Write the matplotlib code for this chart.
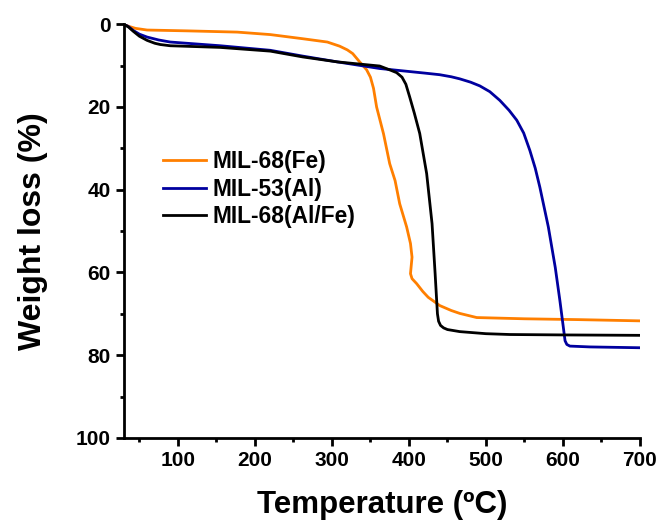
import matplotlib
matplotlib.use("Agg")
import matplotlib.pyplot as plt
from matplotlib.ticker import MultipleLocator

plt.rcParams['font.family'] = ['Liberation Sans', 'DejaVu Sans']
plt.rcParams['font.weight'] = 'bold'

# MIL-68(Fe)
t_fe = [30, 36, 45, 60, 112, 177, 220, 262, 294, 310, 320, 327, 336, 345, 350, 354, 358, 367,
        375, 382, 388, 397, 402, 404, 402, 404, 410, 418, 425, 440, 455, 466, 488, 550, 620, 700]
w_fe = [0, 0.5, 1.0, 1.4, 1.6, 1.9, 2.5, 3.5, 4.3, 5.3, 6.2, 7.1, 9.1, 11, 12.8, 15.5, 20, 26.5,
        33.7, 37.8, 43.4, 49, 53, 56.3, 60.3, 61.5, 62.7, 64.6, 66, 68, 69.2, 69.9, 70.9, 71.2, 71.4, 71.7]

# MIL-53(Al)
t_al = [30, 36, 42, 50, 60, 75, 90, 155, 220, 262, 307, 362, 420, 440, 455, 466, 480, 492, 505,
        518, 530, 540, 549, 557, 564, 570, 581, 590, 596, 600.5, 602.7, 605, 609, 635, 700]
w_al = [0, 0.6, 1.5, 2.4, 3.1, 3.8, 4.3, 5.2, 6.3, 7.7, 9.1, 10.7, 11.8, 12.2, 12.7, 13.2, 14.0, 14.9, 16.3,
        18.4, 20.8, 23.2, 26.3, 30.5, 34.8, 39.4, 49, 58.8, 66.8, 73.3, 76.5, 77.4, 77.8, 78, 78.2]

# MIL-68(Al/Fe)
t_alfe = [30, 36, 42, 50, 60, 70, 77, 90, 155, 220, 262, 307, 362, 376, 384, 391, 396, 401, 407, 414,
          423, 430, 434, 436, 437, 438.5, 441, 445, 450, 466, 500, 531, 600, 700]
w_alfe = [0, 0.7, 1.7, 2.9, 3.9, 4.6, 4.9, 5.2, 5.6, 6.5, 7.9, 9.1, 10.1, 11.1, 11.7, 12.8, 14.5, 17.6, 21.5, 26.4,
          36.1, 48.2, 60.3, 66.8, 70, 71.8, 72.8, 73.4, 73.8, 74.3, 74.8, 75, 75.1, 75.2]

fig = plt.figure(figsize=(6.61, 5.27), dpi=100)
ax = fig.add_axes([0.1876, 0.169, 0.7806, 0.785])

ax.plot(t_fe, w_fe, color='#FF7F00', lw=2, label='MIL-68(Fe)')
ax.plot(t_al, w_al, color='#00009F', lw=2, label='MIL-53(Al)')
ax.plot(t_alfe, w_alfe, color='black', lw=2, label='MIL-68(Al/Fe)')

ax.set_xlim(30, 700)
ax.set_ylim(100, 0)
ax.xaxis.set_major_locator(MultipleLocator(100))
ax.xaxis.set_minor_locator(MultipleLocator(50))
ax.yaxis.set_major_locator(MultipleLocator(20))
ax.yaxis.set_minor_locator(MultipleLocator(10))

for s in ['top', 'right']:
    ax.spines[s].set_visible(False)
for s in ['left', 'bottom']:
    ax.spines[s].set_linewidth(2)

ax.tick_params(which='major', direction='out', length=6, width=2, labelsize=15)
ax.tick_params(which='minor', direction='out', length=3, width=2)

ax.set_xlabel('Temperature (ºC)', fontsize=22.5, fontweight='bold', labelpad=14)
ax.set_ylabel('Weight loss (%)', fontsize=23, fontweight='bold', labelpad=20)

ax.legend(loc='upper left', bbox_to_anchor=(0.035, 0.745), frameon=False,
          fontsize=16.4, handlelength=1.9, handletextpad=0.3, labelspacing=0.2)

fig.savefig('out.png', dpi=100)
